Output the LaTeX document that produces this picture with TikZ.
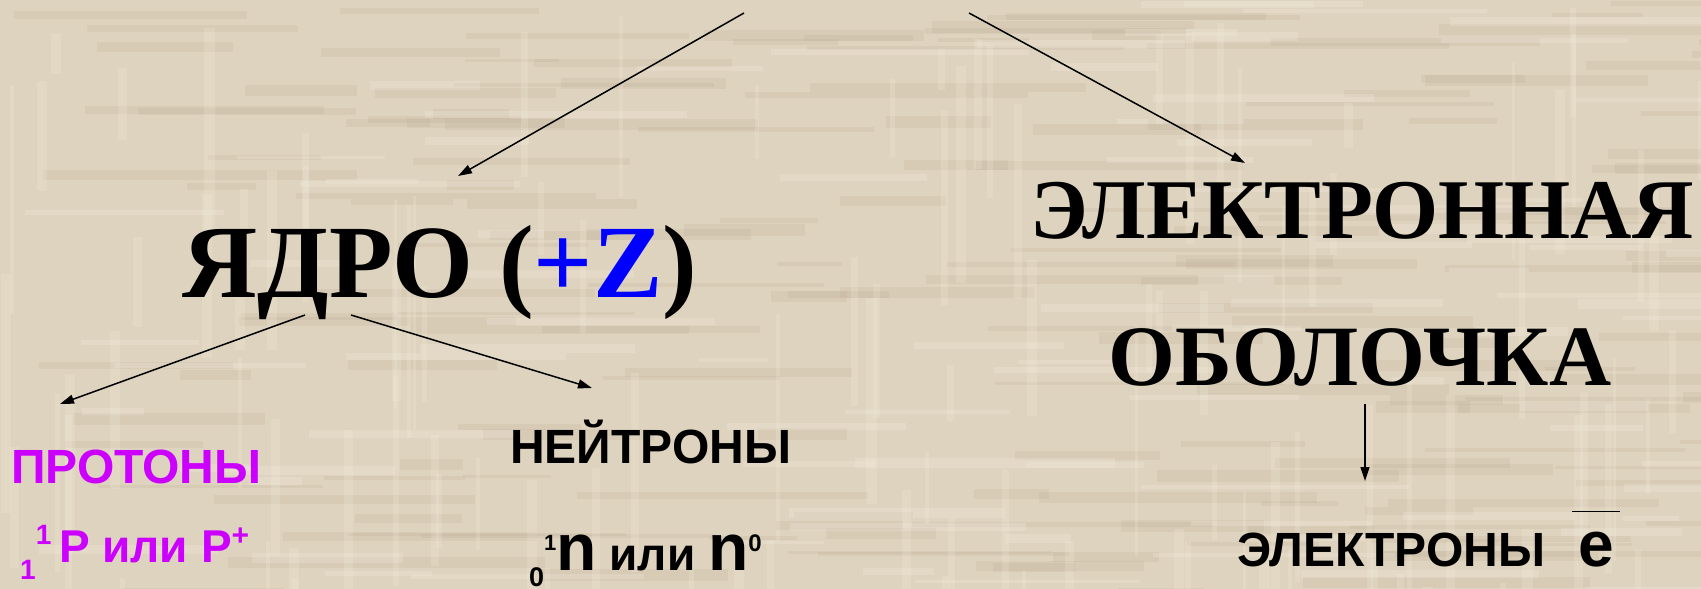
\documentclass[tikz,border=0pt]{standalone}
\usepackage{fontspec}
\setmainfont{Liberation Serif}
\newfontfamily\arialfont{Liberation Sans}
\usetikzlibrary{arrows.meta,positioning,calc}

\definecolor{paper}{RGB}{222,211,190}
\definecolor{paperlight}{RGB}{243,236,221}
\definecolor{paperdark}{RGB}{176,160,134}
\definecolor{protonpink}{RGB}{204,0,255}
\definecolor{zblue}{RGB}{0,0,255}

\newcommand{\idx}[2]{{\fontsize{#1}{#1}\selectfont#2}}

\tikzset{
  arr/.style={draw=black, line width=1.5pt, -{Triangle[length=14pt,width=9pt]}},
  titletext/.style={inner sep=0pt, anchor=base},
  sanstext/.style={inner sep=0pt, anchor=base west, font=\arialfont\bfseries\fontsize{48}{48}\selectfont},
}

\begin{document}
\begin{tikzpicture}[x=1pt,y=-1pt]
\fill[paper] (0,0) rectangle (1701,589);
\useasboundingbox (0,0) rectangle (1701,589);
% paper texture
\pgfmathsetseed{17}
\foreach \i in {1,...,170} {
  \pgfmathsetmacro\xa{rnd*1701}
  \pgfmathsetmacro\ya{rnd*589}
  \pgfmathsetmacro\la{60+rnd*260}
  \pgfmathsetmacro\ha{3+rnd*9}
  \fill[paperdark, opacity=0.14] (\xa,\ya) rectangle ++(\la,\ha);
}
\foreach \i in {1,...,110} {
  \pgfmathsetmacro\xa{rnd*1701}
  \pgfmathsetmacro\ya{rnd*589}
  \pgfmathsetmacro\la{40+rnd*200}
  \pgfmathsetmacro\wa{3+rnd*8}
  \fill[paperlight, opacity=0.22] (\xa,\ya) rectangle ++(\wa,\la);
}
\foreach \i in {1,...,90} {
  \pgfmathsetmacro\xa{rnd*1701}
  \pgfmathsetmacro\ya{rnd*589}
  \pgfmathsetmacro\la{50+rnd*220}
  \pgfmathsetmacro\ha{3+rnd*7}
  \fill[paperlight, opacity=0.26] (\xa,\ya) rectangle ++(\la,\ha);
}

% titles
\node[titletext, font=\bfseries\fontsize{104}{104}\selectfont] (nucleus) at (440,297)
  {ЯДРО (\textcolor{zblue}{+Z})};
\node[titletext, font=\bfseries\fontsize{85}{85}\selectfont] (shell1) at (1362,238) {ЭЛЕКТРОННАЯ};
\node[titletext, font=\bfseries\fontsize{86}{86}\selectfont] (shell2) at (1360,385) {ОБОЛОЧКА};

% particles
\node[sanstext, text=protonpink] (protons) at (11,483) {ПРОТОНЫ};
\node[sanstext, font=\arialfont\bfseries\fontsize{46}{46}\selectfont, text=protonpink] (pform) at (20,562)
  {\idx{28}{\raisebox{-17pt}{1}\raisebox{18pt}{1}}\,P или P\idx{30}{\raisebox{17pt}{+}}};
\node[sanstext] (neutrons) at (510,463) {НЕЙТРОНЫ};
\node[sanstext, font=\arialfont\bfseries\fontsize{46}{46}\selectfont] (nform) at (529,570)
  {\idx{27}{\raisebox{-16pt}{0}}\idx{22}{\raisebox{20pt}{1}}\idx{66}{n} или \idx{66}{n}\idx{24}{\raisebox{19pt}{0}}};
\node[sanstext, font=\arialfont\bfseries\fontsize{48}{48}\selectfont] (electrons) at (1237,566) {ЭЛЕКТРОНЫ};
\node[sanstext, font=\arialfont\bfseries\fontsize{64}{64}\selectfont] (esym) at (1578,566) {e};
\draw[line width=1.5pt] ([shift={(-6pt,20pt)}]esym.north west) -- ([shift={(6pt,20pt)}]esym.north east);

% connectors
\coordinate (atomL) at (744,13);
\coordinate (atomR) at (969,13);
\coordinate (nucIn) at (458,176);
\coordinate (shellIn) at (1245,163);
\coordinate (nucOutL) at (305,315);
\coordinate (nucOutR) at (351,315);
\coordinate (protIn) at (60,404);
\coordinate (neutIn) at (592,388);
\coordinate (shellOut) at (1365,404);
\coordinate (elecIn) at (1365,481);
\draw[arr] (atomL) -- (nucIn);
\draw[arr] (atomR) -- (shellIn);
\draw[arr] (nucOutL) -- (protIn);
\draw[arr] (nucOutR) -- (neutIn);
\draw[arr] (shellOut) -- (elecIn);
\end{tikzpicture}
\end{document}
